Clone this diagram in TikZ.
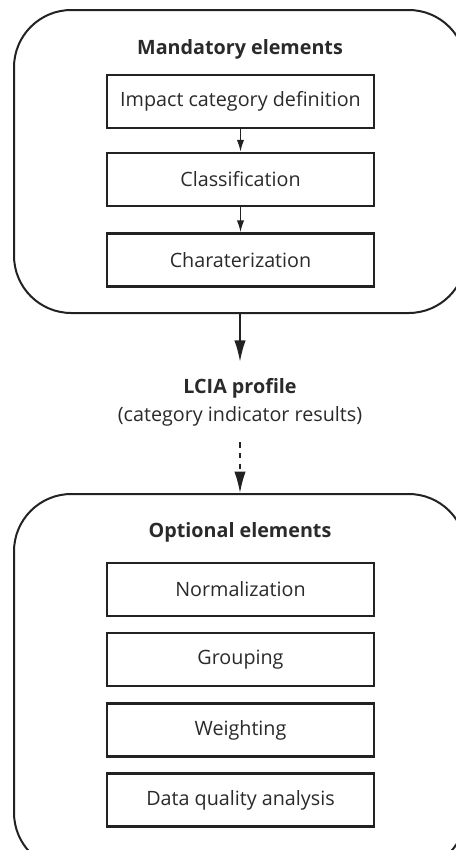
\documentclass[tikz,border=0pt]{standalone}
\usepackage{fontspec}
\setmainfont{Open Sans}
\usetikzlibrary{arrows.meta}
\definecolor{ink}{HTML}{222222}
\definecolor{txt}{HTML}{2a2a2a}
\begin{document}
\begin{tikzpicture}[x=0.75pt,y=-0.75pt,
  group/.style={draw=ink, line width=1.5pt, rounded corners=43pt, minimum width=339pt, inner sep=0pt},
  stepbox/.style={draw=ink, line width=1.6pt, minimum width=200.25pt, minimum height=39.75pt, inner sep=0pt,
    font=\fontsize{14.8}{17}\selectfont, text=txt},
  title/.style={font=\bfseries\fontsize{14.8}{17}\selectfont, text=txt},
  smallarrow/.style={draw=ink, line width=1.3pt, -{Latex[length=9pt,width=5.5pt]}},
  bigarrow/.style={draw=ink, line width=1.2pt, -{Latex[length=16pt,width=8.5pt]}}
]
\clip (0,0) rectangle (456,850);
\fill[white] (0,0) rectangle (456,850);

% groups
\node[group, minimum height=227.25pt] (mand) at (240,161.5) {};
\node[group, minimum height=282pt] (opt) at (240,682) {};

% titles
\node[title] (mtitle) at (240,49) {Mandatory elements};
\node[title] (otitle) at (240,532) {Optional elements};

% mandatory steps
\node[stepbox] (icd) at (240.5,101.5) {Impact category definition};
\node[stepbox] (cls) at (240.5,179.5) {Classification};
\node[stepbox] (chr) at (240.5,260) {Charaterization};

% optional steps
\node[stepbox] (nrm) at (240.5,589.5) {Normalization};
\node[stepbox] (grp) at (240.5,659.5) {Grouping};
\node[stepbox] (wgt) at (240.5,730) {Weighting};
\node[stepbox] (dqa) at (240.5,800) {Data quality analysis};

% LCIA profile
\node[align=center, minimum height=60pt, inner sep=0pt, text=txt,
  font=\fontsize{14.8}{21}\selectfont] (lcia) at (240,402)
  {{\bfseries LCIA profile}\\(category indicator results)};

% connectors
\draw[smallarrow] (icd) -- (cls);
\draw[smallarrow] (cls) -- (chr);
\draw[bigarrow] (mand.south) -- (lcia.north);
\draw[bigarrow, dash pattern=on 4pt off 4pt] (lcia.south) -- (opt.north);
\end{tikzpicture}
\end{document}
